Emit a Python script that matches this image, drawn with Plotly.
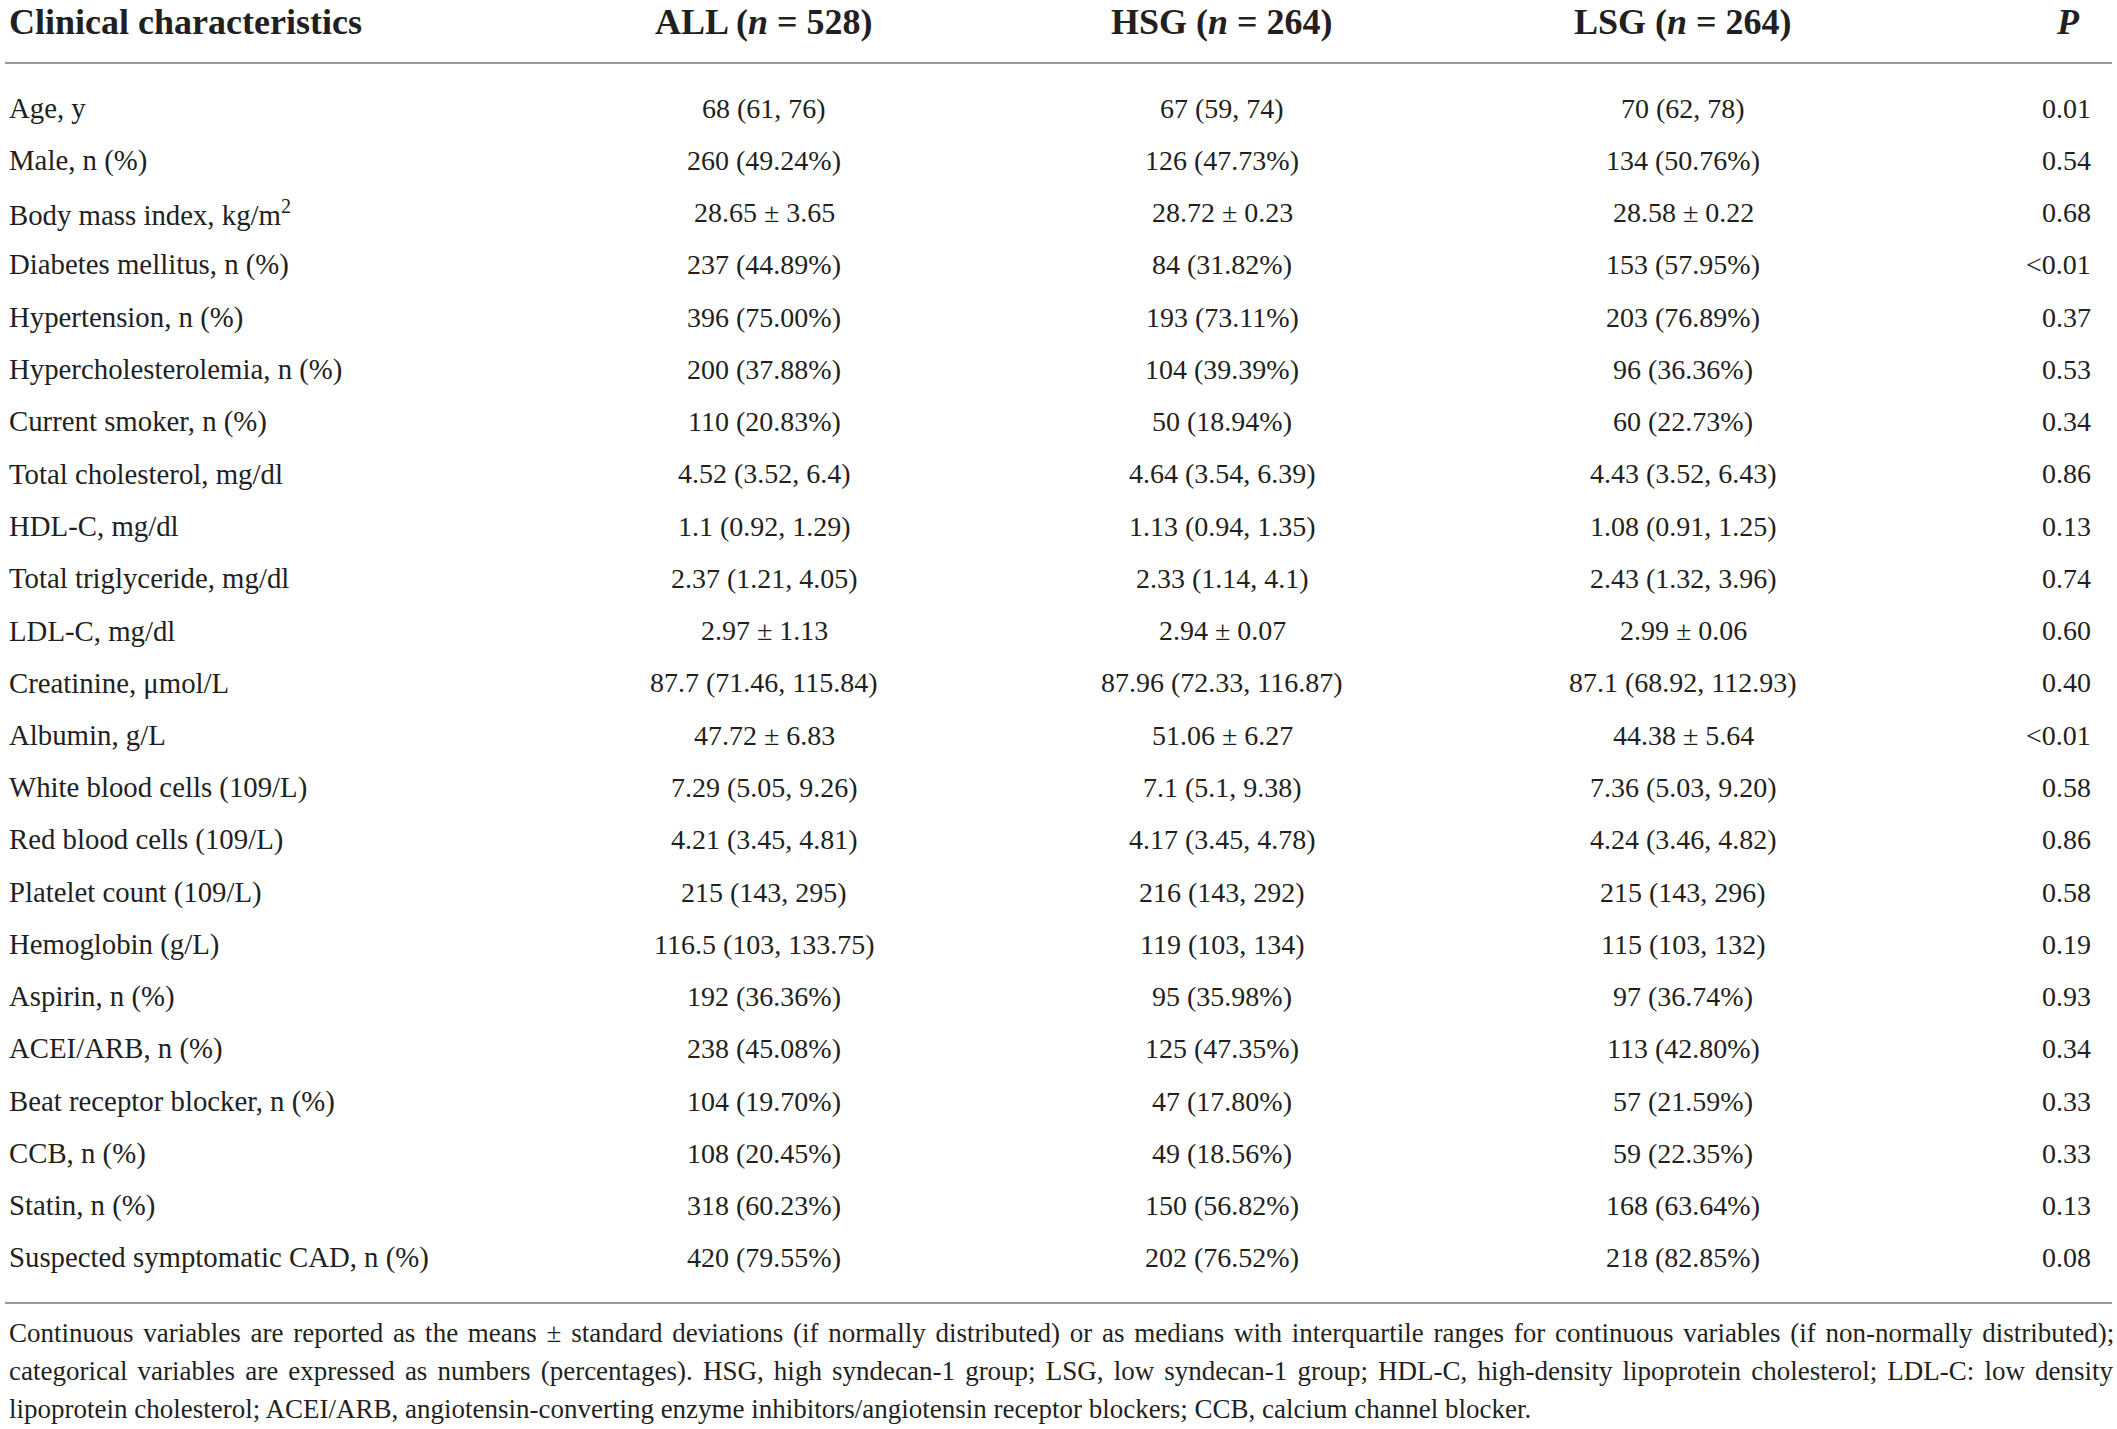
import plotly.graph_objects as go

# table content
headers = ["Clinical characteristics", "ALL (<i>n</i> = 528)", "HSG (<i>n</i> = 264)",
           "LSG (<i>n</i> = 264)", "<i>P</i>"]

characteristics = [
    "Age, y", "Male, n (%)", "Body mass index, kg/m<sup>2</sup>", "Diabetes mellitus, n (%)",
    "Hypertension, n (%)", "Hypercholesterolemia, n (%)", "Current smoker, n (%)",
    "Total cholesterol, mg/dl", "HDL-C, mg/dl", "Total triglyceride, mg/dl", "LDL-C, mg/dl",
    "Creatinine, \u03bcmol/L", "Albumin, g/L", "White blood cells (109/L)",
    "Red blood cells (109/L)", "Platelet count (109/L)", "Hemoglobin (g/L)",
    "Aspirin, n (%)", "ACEI/ARB, n (%)", "Beat receptor blocker, n (%)", "CCB, n (%)",
    "Statin, n (%)", "Suspected symptomatic CAD, n (%)",
]

all_group = [
    "68 (61, 76)", "260 (49.24%)", "28.65 \u00b1 3.65", "237 (44.89%)", "396 (75.00%)",
    "200 (37.88%)", "110 (20.83%)", "4.52 (3.52, 6.4)", "1.1 (0.92, 1.29)",
    "2.37 (1.21, 4.05)", "2.97 \u00b1 1.13", "87.7 (71.46, 115.84)", "47.72 \u00b1 6.83",
    "7.29 (5.05, 9.26)", "4.21 (3.45, 4.81)", "215 (143, 295)", "116.5 (103, 133.75)",
    "192 (36.36%)", "238 (45.08%)", "104 (19.70%)", "108 (20.45%)", "318 (60.23%)",
    "420 (79.55%)",
]

hsg_group = [
    "67 (59, 74)", "126 (47.73%)", "28.72 \u00b1 0.23", "84 (31.82%)", "193 (73.11%)",
    "104 (39.39%)", "50 (18.94%)", "4.64 (3.54, 6.39)", "1.13 (0.94, 1.35)",
    "2.33 (1.14, 4.1)", "2.94 \u00b1 0.07", "87.96 (72.33, 116.87)", "51.06 \u00b1 6.27",
    "7.1 (5.1, 9.38)", "4.17 (3.45, 4.78)", "216 (143, 292)", "119 (103, 134)",
    "95 (35.98%)", "125 (47.35%)", "47 (17.80%)", "49 (18.56%)", "150 (56.82%)",
    "202 (76.52%)",
]

lsg_group = [
    "70 (62, 78)", "134 (50.76%)", "28.58 \u00b1 0.22", "153 (57.95%)", "203 (76.89%)",
    "96 (36.36%)", "60 (22.73%)", "4.43 (3.52, 6.43)", "1.08 (0.91, 1.25)",
    "2.43 (1.32, 3.96)", "2.99 \u00b1 0.06", "87.1 (68.92, 112.93)", "44.38 \u00b1 5.64",
    "7.36 (5.03, 9.20)", "4.24 (3.46, 4.82)", "215 (143, 296)", "115 (103, 132)",
    "97 (36.74%)", "113 (42.80%)", "57 (21.59%)", "59 (22.35%)", "168 (63.64%)",
    "218 (82.85%)",
]

p_values = [
    "0.01", "0.54", "0.68", "<0.01", "0.37", "0.53", "0.34", "0.86", "0.13", "0.74",
    "0.60", "0.40", "<0.01", "0.58", "0.86", "0.58", "0.19", "0.93", "0.34", "0.33",
    "0.33", "0.13", "0.08",
]

footnote = [
    "Continuous variables are reported as the means \u00b1 standard deviations (if normally distributed) "
    "or as medians with interquartile ranges for continuous variables (if non-normally distributed);",
    "categorical variables are expressed as numbers (percentages). HSG, high syndecan-1 group; "
    "LSG, low syndecan-1 group; HDL-C, high-density lipoprotein cholesterol; LDL-C: low density",
    "lipoprotein cholesterol; ACEI/ARB, angiotensin-converting enzyme inhibitors/angiotensin "
    "receptor blockers; CCB, calcium channel blocker.",
]
# first two footnote lines are justified in the source
foot_wordspacing = [3.0, 3.4, 0]

W, H = 2117, 1429
FONT = "Liberation Serif"
TXT = "#231f20"
RULE = "#9a9a9a"

col_x = [7, 764, 1222, 1683, 2093]
header_y = 22
row_y0, row_step = 108, 52.27
foot_y0, foot_step = 1333, 37.8

fig = go.Figure()
fig.add_trace(go.Scatter(x=[0, W], y=[0, H], mode="markers",
                         marker=dict(opacity=0), hoverinfo="skip", showlegend=False))

ann = []
# header row
for i, h in enumerate(headers):
    if i == 0:
        xa, xx = "left", col_x[0]
    elif i == 4:
        xa, xx = "center", 2068
    else:
        xa, xx = "center", col_x[i]
    ann.append(dict(x=xx, y=header_y, text="<b>%s</b>" % h, xanchor=xa, yanchor="middle",
                    font=dict(size=36, color=TXT, family=FONT)))

# body rows
for r in range(len(characteristics)):
    y = row_y0 + r * row_step
    cells = [characteristics[r], all_group[r], hsg_group[r], lsg_group[r], p_values[r]]
    for i, c in enumerate(cells):
        xa = "left" if i == 0 else ("right" if i == 4 else "center")
        size = 28.8 if i == 0 else 28
        ann.append(dict(x=col_x[i], y=y, text=c.replace("<0", "&lt;0"), xanchor=xa,
                        yanchor="middle", font=dict(size=size, color=TXT, family=FONT)))

# footnote
for k, line in enumerate(footnote):
    txt = line
    if foot_wordspacing[k]:
        txt = "<span style='word-spacing:%.1fpx'>%s</span>" % (foot_wordspacing[k], line)
    ann.append(dict(x=col_x[0], y=foot_y0 + k * foot_step, text=txt, xanchor="left",
                    yanchor="middle", font=dict(size=27, color=TXT, family=FONT)))

for a in ann:
    a.update(xref="x", yref="y", showarrow=False)

shapes = [
    dict(type="line", xref="x", yref="y", x0=5, x1=2112, y0=63, y1=63,
         line=dict(color=RULE, width=2)),
    dict(type="line", xref="x", yref="y", x0=5, x1=2112, y0=1303, y1=1303,
         line=dict(color=RULE, width=2)),
]

# axes in page pixels so positions
fig.update_layout(
    width=W, height=H,
    margin=dict(l=0, r=0, t=0, b=0),
    paper_bgcolor="white", plot_bgcolor="white",
    annotations=ann, shapes=shapes,
    xaxis=dict(range=[0, W], visible=False, fixedrange=True),
    yaxis=dict(range=[H, 0], visible=False, fixedrange=True),
)

fig.write_html("out.html", config={"displayModeBar": False},
               post_script="document.body.style.margin='0';")
